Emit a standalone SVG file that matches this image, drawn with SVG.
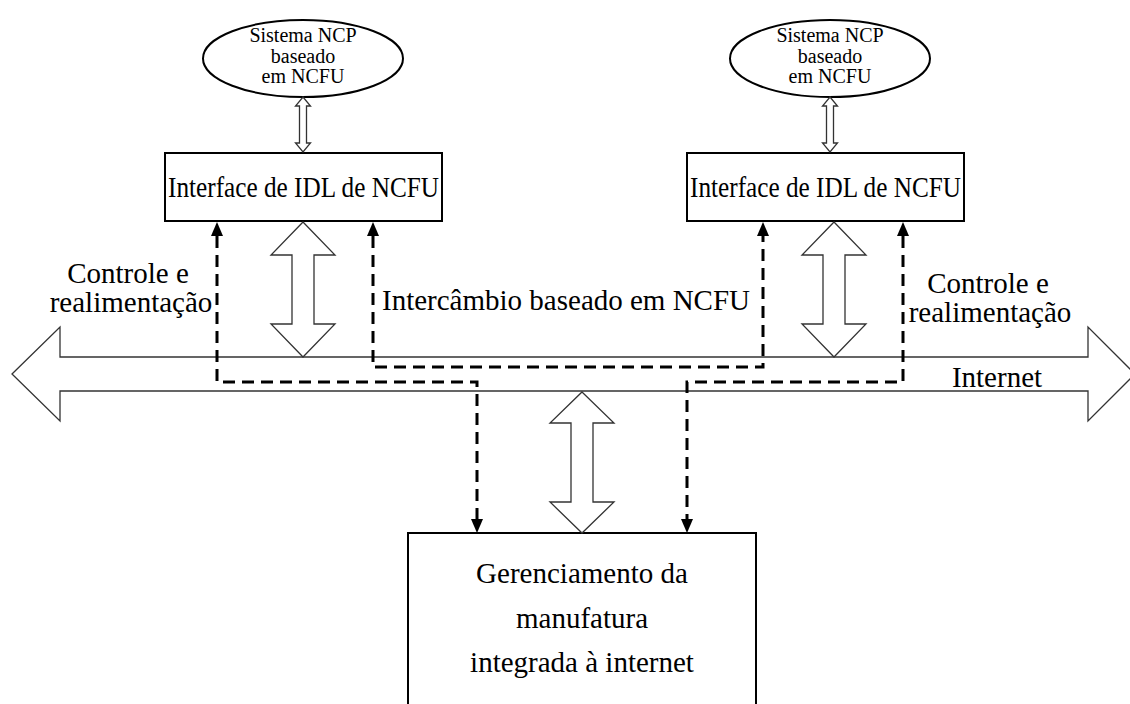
<svg xmlns="http://www.w3.org/2000/svg" width="1130" height="704" viewBox="0 0 1130 704">
  <style>
    text { font-family: "Liberation Serif", "Times New Roman", serif; fill: #000; }
    .lbl { font-size: 29px; }
    .box-t { font-size: 29px; text-anchor: middle; }
    .ell-t { font-size: 20px; text-anchor: middle; }
    .mid { text-anchor: middle; }
    .node { fill: #fff; stroke: #000; stroke-width: 2; }
    .hollow { fill: #fff; stroke: #333; stroke-width: 1.3; stroke-linejoin: miter; }
    .dash { fill: none; stroke: #000; stroke-width: 3; stroke-dasharray: 12 7; marker-start: url(#tip); marker-end: url(#tip); }
  </style>
  <defs>
    <marker id="tip" markerUnits="userSpaceOnUse" markerWidth="16" markerHeight="14" refX="0" refY="7" orient="auto-start-reverse" viewBox="0 0 16 14">
      <path d="M0,1 L14,7 L0,13 Z" fill="#000"/>
    </marker>
  </defs>
  <rect width="1130" height="704" fill="#fff"/>

  <!-- Internet backbone: wide hollow double arrow -->
  <g id="internet">
    <path class="hollow" d="M12,374 L60,327 L60,357 L1088,357 L1088,327 L1135,374 L1088,421 L1088,391 L60,391 L60,421 Z"/>
    <text class="lbl" x="997" y="387" text-anchor="middle">Internet</text>
  </g>

  <!-- NCP system on the left -->
  <g id="ncp-left">
    <ellipse class="node" cx="303" cy="58.5" rx="100" ry="38.5"/>
    <text class="ell-t" x="303" y="42">Sistema NCP</text>
    <text class="ell-t" x="303" y="63">baseado</text>
    <text class="ell-t" x="303" y="83">em NCFU</text>
  </g>

  <!-- NCP system on the right -->
  <g id="ncp-right">
    <ellipse class="node" cx="830" cy="58.5" rx="100" ry="38.5"/>
    <text class="ell-t" x="830" y="42">Sistema NCP</text>
    <text class="ell-t" x="830" y="63">baseado</text>
    <text class="ell-t" x="830" y="83">em NCFU</text>
  </g>

  <!-- IDL interfaces -->
  <g id="idl-left">
    <rect class="node" x="165" y="153" width="277" height="68"/>
    <text class="box-t" x="303.5" y="197" textLength="271" lengthAdjust="spacingAndGlyphs">Interface de IDL de NCFU</text>
  </g>
  <g id="idl-right">
    <rect class="node" x="687" y="153" width="277" height="68"/>
    <text class="box-t" x="825.5" y="197" textLength="271" lengthAdjust="spacingAndGlyphs">Interface de IDL de NCFU</text>
  </g>

  <!-- Integrated manufacturing management -->
  <g id="management">
    <rect class="node" x="408" y="533" width="348" height="190"/>
    <text class="lbl mid" x="582" y="583">Gerenciamento da</text>
    <text class="lbl mid" x="582" y="628">manufatura</text>
    <text class="lbl mid" x="582" y="672">integrada à internet</text>
  </g>

  <!-- Free-standing labels -->
  <g id="labels">
    <text class="lbl mid" x="128" y="283">Controle e</text>
    <text class="lbl mid" x="131" y="312">realimentação</text>
    <text class="lbl mid" x="988" y="293">Controle e</text>
    <text class="lbl mid" x="990" y="322">realimentação</text>
    <text class="lbl" x="382" y="310">Intercâmbio baseado em NCFU</text>
  </g>

  <g id="connectors">
    <!-- ellipse to interface links -->
    <path class="hollow" d="M303,97 L310.5,106 L306.5,106 L306.5,143 L310.5,143 L303,152 L295.5,143 L299.5,143 L299.5,106 L295.5,106 Z"/>
    <path class="hollow" d="M830,97 L837.5,106 L833.5,106 L833.5,143 L837.5,143 L830,152 L822.5,143 L826.5,143 L826.5,106 L822.5,106 Z"/>
    <!-- interface to internet exchanges -->
    <path class="hollow" d="M303,222 L335,255 L314,255 L314,324 L335,324 L303,357 L271,324 L292,324 L292,255 L271,255 Z"/>
    <path class="hollow" d="M834,222 L866,255 L845,255 L845,324 L866,324 L834,357 L802,324 L823,324 L823,255 L802,255 Z"/>
    <!-- internet to management -->
    <path class="hollow" d="M582,392 L614,423 L593,423 L593,502 L614,502 L582,533 L550,502 L571,502 L571,423 L550,423 Z"/>
    <!-- control and feedback paths -->
    <path class="dash" d="M217,236 L217,382 L477,382 L477,519"/>
    <path class="dash" d="M373,236 L373,367 L763,367 L763,236"/>
    <path class="dash" d="M903,236 L903,382 L687,382 L687,519"/>
  </g>
</svg>
